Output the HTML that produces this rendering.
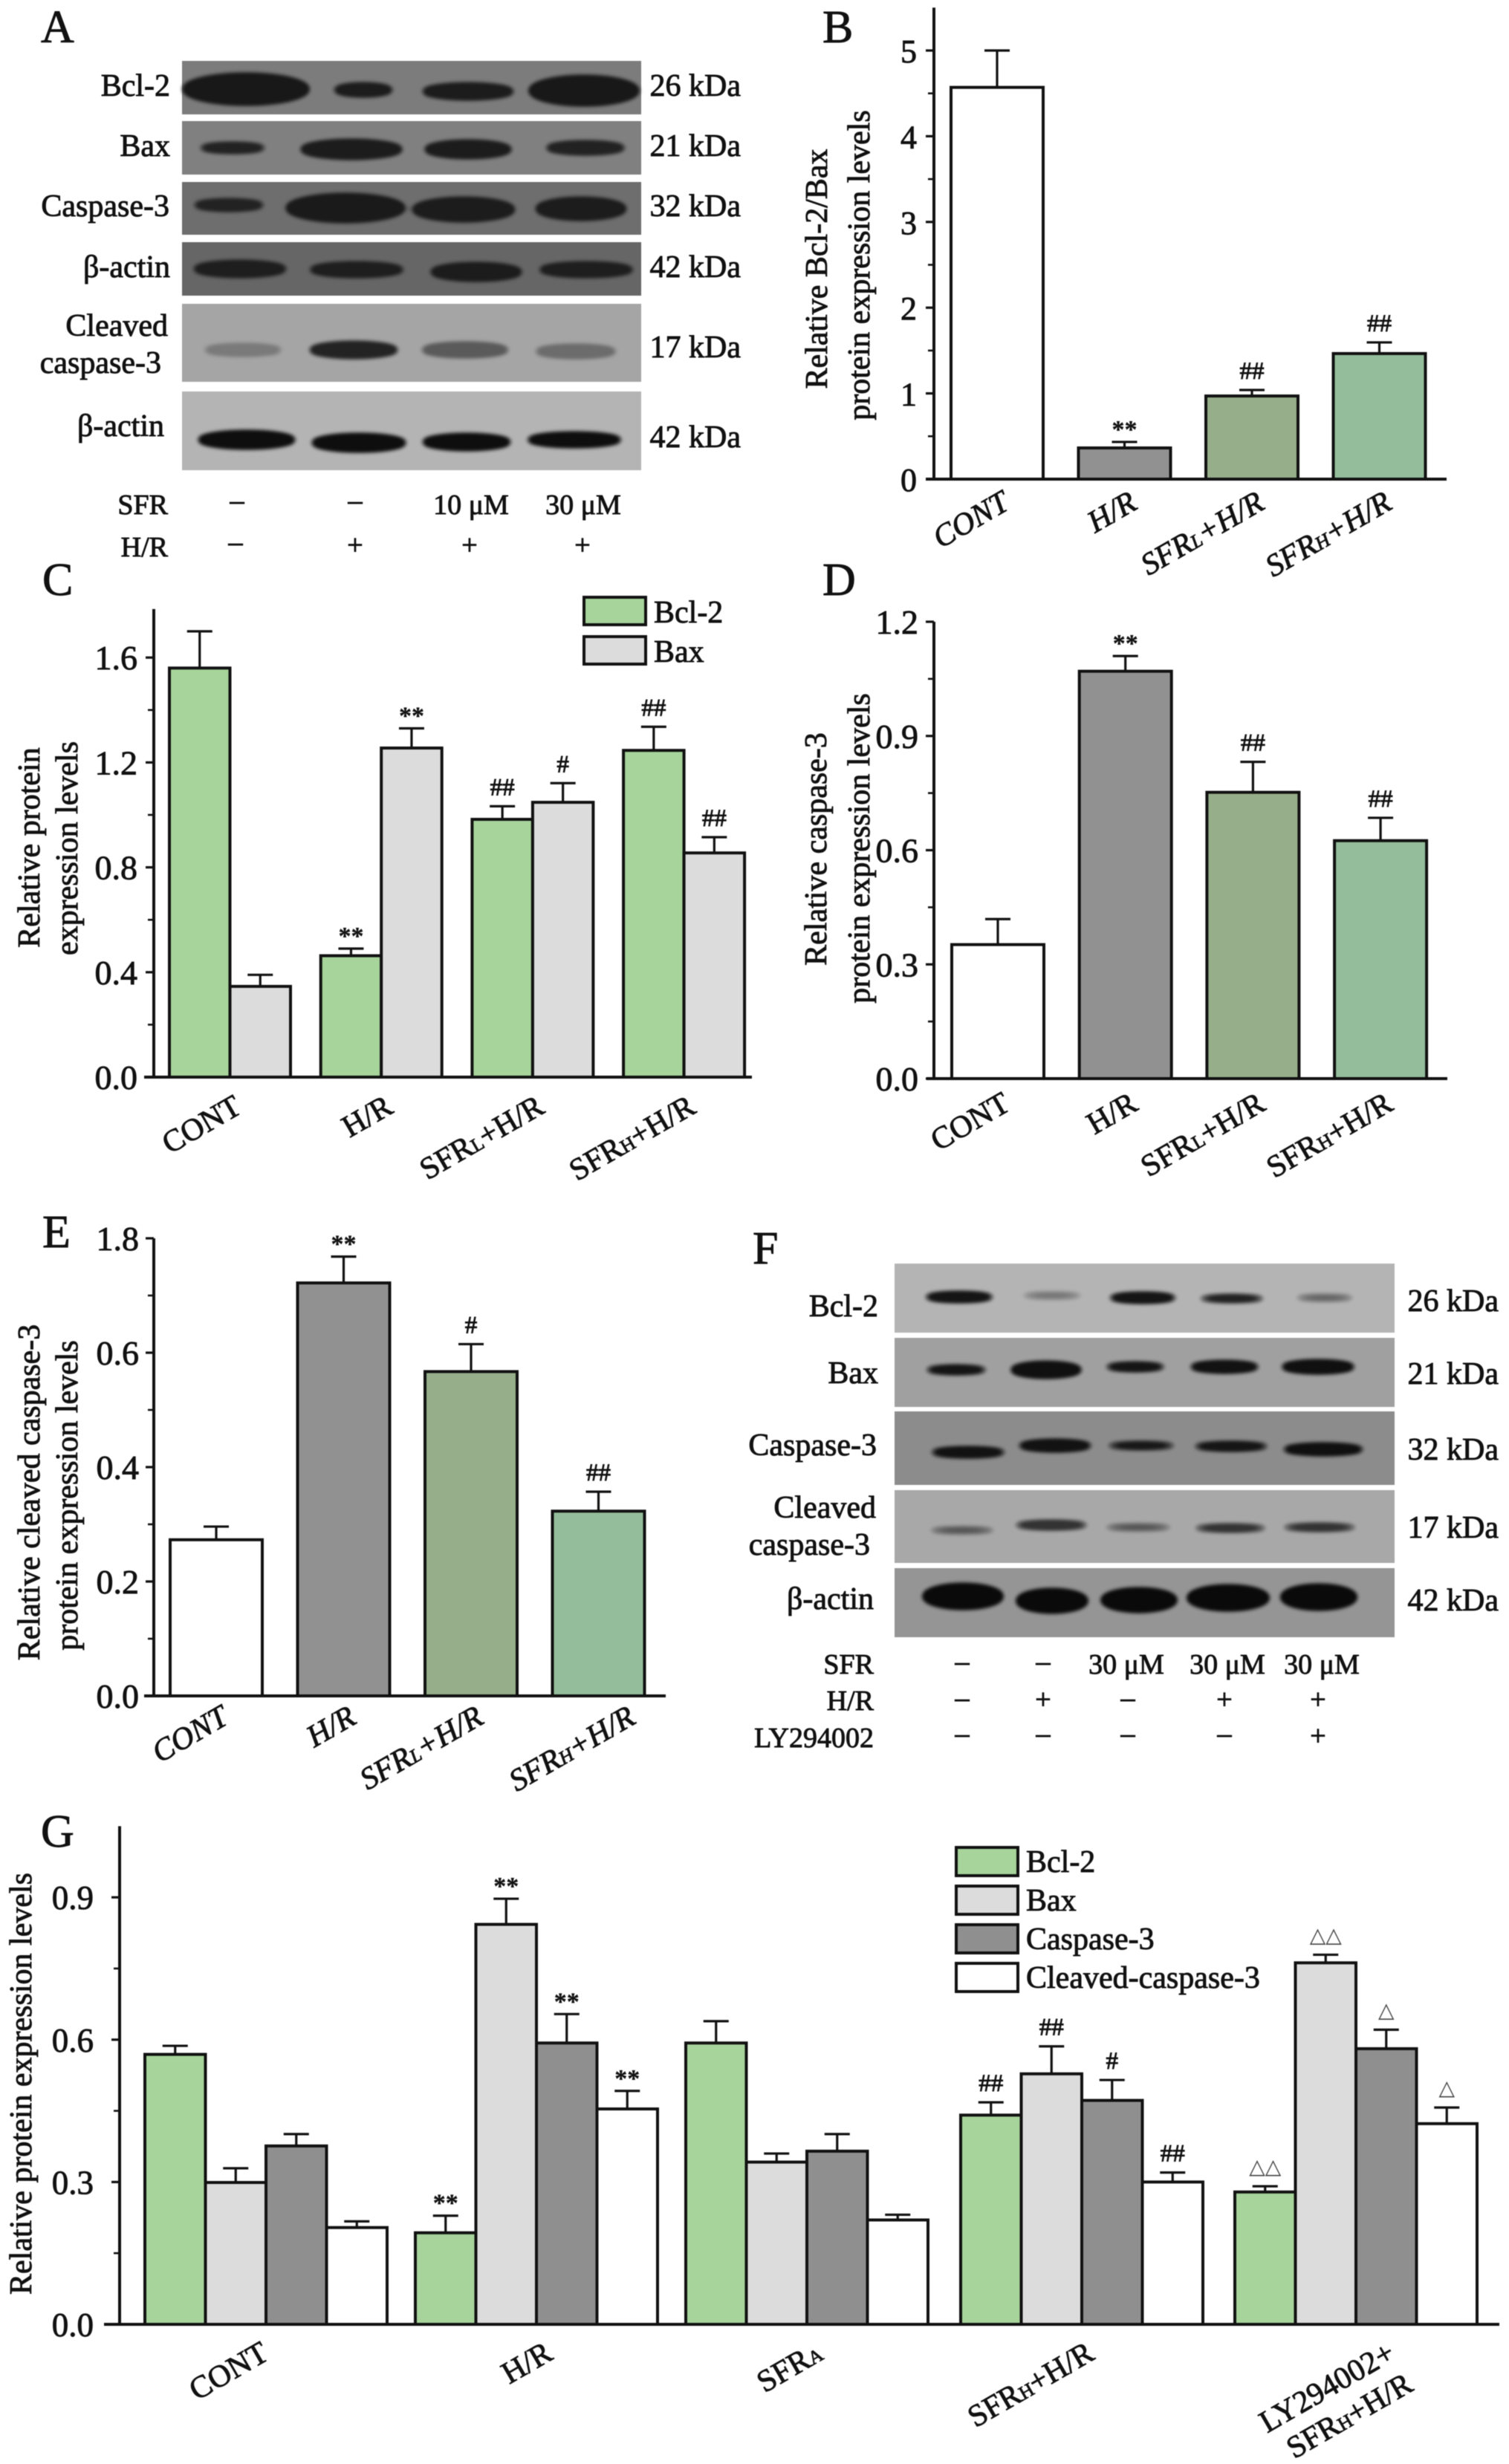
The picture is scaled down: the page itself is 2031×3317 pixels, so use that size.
<!DOCTYPE html>
<html lang="en">
<head>
<meta charset="utf-8">
<title>Western blot and protein expression panels</title>
<style>
html,body{margin:0;padding:0;background:#fff;}
svg{display:block;filter:blur(.5px);}
text{font-family:"Liberation Serif","DejaVu Serif",serif;fill:#111;stroke:#111;stroke-width:.9px;}
</style>
</head>
<body>
<svg id="figure" xmlns="http://www.w3.org/2000/svg" width="2031" height="3317" viewBox="0 0 2031 3317">
<defs>
<filter id="soft" x="-20%" y="-60%" width="140%" height="220%" color-interpolation-filters="sRGB"><feGaussianBlur stdDeviation="5"/><feComponentTransfer><feFuncA type="linear" slope="2.6" intercept="-0.45"/></feComponentTransfer><feGaussianBlur stdDeviation="1.6"/></filter>
</defs>
<rect x="0" y="0" width="2031" height="3317" fill="#fff"/>

<!-- Panel A -->
<g>
<text x="55" y="57" font-size="62">A</text>
<rect x="245" y="82" width="618" height="72" fill="#7c7c7c"/>
<rect x="245" y="163" width="618" height="72" fill="#808080"/>
<rect x="245" y="245" width="618" height="71" fill="#6e6e6e"/>
<rect x="245" y="326" width="618" height="72" fill="#666"/>
<rect x="245" y="409" width="618" height="105" fill="#a5a5a5"/>
<rect x="245" y="527" width="618" height="106" fill="#b4b4b4"/>
<g filter="url(#soft)">
<ellipse cx="331" cy="120" rx="86" ry="21" fill="#181818"/>
<ellipse cx="489" cy="121" rx="41" ry="9" fill="#1c1c1c"/>
<ellipse cx="630" cy="123" rx="63" ry="11" fill="#1c1c1c"/>
<ellipse cx="786" cy="122" rx="75" ry="20" fill="#181818"/>
<ellipse cx="313" cy="199" rx="46" ry="7" fill="#222"/>
<ellipse cx="473" cy="201" rx="70" ry="13" fill="#1c1c1c"/>
<ellipse cx="630" cy="201" rx="60" ry="12" fill="#1c1c1c"/>
<ellipse cx="788" cy="199" rx="55" ry="9" fill="#222"/>
<ellipse cx="308" cy="276" rx="49" ry="8" fill="#222"/>
<ellipse cx="465" cy="280" rx="81" ry="19" fill="#1a1a1a"/>
<ellipse cx="624" cy="282" rx="70" ry="16" fill="#1c1c1c"/>
<ellipse cx="782" cy="281" rx="62" ry="15" fill="#1c1c1c"/>
<ellipse cx="323" cy="362" rx="64" ry="11" fill="#1e1e1e"/>
<ellipse cx="480" cy="363" rx="65" ry="10" fill="#1e1e1e"/>
<ellipse cx="641" cy="366" rx="63" ry="12" fill="#1c1c1c"/>
<ellipse cx="789" cy="363" rx="65" ry="10" fill="#1e1e1e"/>
<ellipse cx="327" cy="471" rx="54" ry="8" fill="#7a7a7a"/>
<ellipse cx="476" cy="471" rx="61" ry="11" fill="#232323"/>
<ellipse cx="626" cy="471" rx="60" ry="10" fill="#5a5a5a"/>
<ellipse cx="775" cy="473" rx="56" ry="9" fill="#6c6c6c"/>
<ellipse cx="332" cy="592" rx="67" ry="12" fill="#0e0e0e"/>
<ellipse cx="483" cy="596" rx="65" ry="12" fill="#0e0e0e"/>
<ellipse cx="628" cy="595" rx="61" ry="11" fill="#0e0e0e"/>
<ellipse cx="773" cy="592" rx="65" ry="10" fill="#0e0e0e"/>
</g>
<g font-size="42" text-anchor="end">
<text x="229" y="129">Bcl-2</text>
<text x="229" y="210">Bax</text>
<text x="228" y="291">Caspase-3</text>
<text x="229" y="373">β-actin</text>
<text x="226" y="452">Cleaved</text>
<text x="217" y="502">caspase-3</text>
<text x="221" y="587">β-actin</text>
</g>
<g font-size="42" text-anchor="end">
<text x="997" y="129">26 kDa</text>
<text x="997" y="210">21 kDa</text>
<text x="997" y="291">32 kDa</text>
<text x="997" y="373">42 kDa</text>
<text x="997" y="481">17 kDa</text>
<text x="997" y="602">42 kDa</text>
</g>
<g font-size="38" text-anchor="middle">
<text x="226" y="692" text-anchor="end">SFR</text>
<text x="226" y="749" text-anchor="end">H/R</text>
<text x="319" y="686">–</text>
<text x="478" y="686">–</text>
<text x="634" y="692">10 μM</text>
<text x="785" y="692">30 μM</text>
<text x="317" y="742">–</text>
<text x="478" y="746">+</text>
<text x="632" y="746">+</text>
<text x="784" y="746">+</text>
</g>
</g>

<!-- Panel F -->
<g>
<text x="1013" y="1701" font-size="62">F</text>
<rect x="1204" y="1701" width="673" height="93" fill="#b4b4b4"/>
<rect x="1204" y="1801" width="673" height="93" fill="#a0a0a0"/>
<rect x="1204" y="1900" width="673" height="99" fill="#8c8c8c"/>
<rect x="1204" y="2006" width="673" height="98" fill="#a8a8a8"/>
<rect x="1204" y="2111" width="673" height="93" fill="#959595"/>
<g filter="url(#soft)">
<ellipse cx="1291" cy="1746" rx="48" ry="7" fill="#151515"/>
<ellipse cx="1416" cy="1744" rx="43" ry="4" fill="#777"/>
<ellipse cx="1538" cy="1747" rx="47" ry="7" fill="#151515"/>
<ellipse cx="1658" cy="1748" rx="46" ry="5" fill="#222"/>
<ellipse cx="1783" cy="1747" rx="42" ry="4" fill="#666"/>
<ellipse cx="1287" cy="1844" rx="43" ry="6" fill="#151515"/>
<ellipse cx="1408" cy="1844" rx="49" ry="11" fill="#101010"/>
<ellipse cx="1528" cy="1840" rx="42" ry="6" fill="#151515"/>
<ellipse cx="1648" cy="1840" rx="48" ry="8" fill="#121212"/>
<ellipse cx="1774" cy="1840" rx="51" ry="9" fill="#101010"/>
<ellipse cx="1303" cy="1955" rx="52" ry="7" fill="#121212"/>
<ellipse cx="1420" cy="1946" rx="51" ry="8" fill="#121212"/>
<ellipse cx="1536" cy="1946" rx="48" ry="5" fill="#181818"/>
<ellipse cx="1657" cy="1947" rx="52" ry="6" fill="#151515"/>
<ellipse cx="1781" cy="1951" rx="56" ry="8" fill="#101010"/>
<ellipse cx="1295" cy="2060" rx="47" ry="4" fill="#555"/>
<ellipse cx="1415" cy="2053" rx="51" ry="6" fill="#333"/>
<ellipse cx="1532" cy="2056" rx="48" ry="4" fill="#555"/>
<ellipse cx="1656" cy="2057" rx="51" ry="5" fill="#333"/>
<ellipse cx="1776" cy="2056" rx="52" ry="5" fill="#333"/>
<ellipse cx="1296" cy="2149" rx="55" ry="17" fill="#0a0a0a"/>
<ellipse cx="1416" cy="2155" rx="49" ry="16" fill="#0a0a0a"/>
<ellipse cx="1533" cy="2154" rx="52" ry="16" fill="#0a0a0a"/>
<ellipse cx="1653" cy="2151" rx="56" ry="17" fill="#0a0a0a"/>
<ellipse cx="1775" cy="2150" rx="52" ry="17" fill="#0a0a0a"/>
</g>
<g font-size="42" text-anchor="end">
<text x="1182" y="1772">Bcl-2</text>
<text x="1182" y="1862">Bax</text>
<text x="1180" y="1959">Caspase-3</text>
<text x="1179" y="2043">Cleaved</text>
<text x="1171" y="2093">caspase-3</text>
<text x="1176" y="2166">β-actin</text>
</g>
<g font-size="42" text-anchor="end">
<text x="2017" y="1765">26 kDa</text>
<text x="2017" y="1863">21 kDa</text>
<text x="2017" y="1965">32 kDa</text>
<text x="2017" y="2070">17 kDa</text>
<text x="2017" y="2168">42 kDa</text>
</g>
<g font-size="38" text-anchor="middle">
<text x="1176" y="2253" text-anchor="end">SFR</text>
<text x="1176" y="2302" text-anchor="end">H/R</text>
<text x="1176" y="2352" text-anchor="end">LY294002</text>
<text x="1295" y="2249">–</text>
<text x="1404" y="2249">–</text>
<text x="1516" y="2253">30 μM</text>
<text x="1652" y="2253">30 μM</text>
<text x="1779" y="2253">30 μM</text>
<text x="1295" y="2298">–</text>
<text x="1404" y="2300">+</text>
<text x="1518" y="2298">–</text>
<text x="1648" y="2300">+</text>
<text x="1774" y="2300">+</text>
<text x="1295" y="2346">–</text>
<text x="1404" y="2346">–</text>
<text x="1518" y="2346">–</text>
<text x="1648" y="2346">–</text>
<text x="1774" y="2349">+</text>
</g>
</g>
</svg>

<script>
/* Panel B data */
const bCategories = ['CONT', 'H/R', 'SFR_L+H/R', 'SFR_H+H/R'];
const bValues = [4.57, 0.364, 0.97, 1.465];
const bErrors = [0.43, 0.07, 0.07, 0.13];
const bMarks = ['', '**', '##', '##'];
const bTicks = [0, 1, 2, 3, 4, 5];
const bTickLabels = ['0', '1', '2', '3', '4', '5'];

/* Panel C data */
const cCategories = ['CONT', 'H/R', 'SFR_L+H/R', 'SFR_H+H/R'];
const cBcl2Values = [1.56, 0.463, 0.983, 1.246];
const cBcl2Errors = [0.14, 0.027, 0.05, 0.09];
const cBcl2Marks = ['', '**', '##', '##'];
const cBaxValues = [0.346, 1.255, 1.048, 0.855];
const cBaxErrors = [0.044, 0.075, 0.073, 0.06];
const cBaxMarks = ['', '**', '#', '##'];
const cTicks = [0, 0.4, 0.8, 1.2, 1.6];
const cTickLabels = ['0.0', '0.4', '0.8', '1.2', '1.6'];

/* Panel D data */
const dCategories = ['CONT', 'H/R', 'SFR_L+H/R', 'SFR_H+H/R'];
const dValues = [0.352, 1.07, 0.752, 0.625];
const dErrors = [0.067, 0.04, 0.08, 0.06];
const dMarks = ['', '**', '##', '##'];
const dTicks = [0, 0.3, 0.6, 0.9, 1.2];
const dTickLabels = ['0.0', '0.3', '0.6', '0.9', '1.2'];

/* Panel E data (the top tick is printed as 1.8 in the figure) */
const eCategories = ['CONT', 'H/R', 'SFR_L+H/R', 'SFR_H+H/R'];
const eValues = [0.273, 0.722, 0.567, 0.323];
const eErrors = [0.023, 0.046, 0.048, 0.034];
const eMarks = ['', '**', '#', '##'];
const eTicks = [0, 0.2, 0.4, 0.6, 0.8];
const eTickLabels = ['0.0', '0.2', '0.4', '0.6', '1.8'];

/* Panel G data */
const gCategories = ['CONT', 'H/R', 'SFR_A', 'SFR_H+H/R', 'LY294002+|SFR_H+H/R'];
const gBcl2Values = [0.569, 0.193, 0.593, 0.441, 0.279];
const gBcl2Errors = [0.018, 0.036, 0.046, 0.027, 0.012];
const gBcl2Marks = ['', '**', '', '##', '△△'];
const gBaxValues = [0.299, 0.843, 0.342, 0.528, 0.762];
const gBaxErrors = [0.03, 0.054, 0.018, 0.058, 0.017];
const gBaxMarks = ['', '**', '', '##', '△△'];
const gCaspaseValues = [0.376, 0.593, 0.365, 0.472, 0.581];
const gCaspaseErrors = [0.025, 0.061, 0.036, 0.043, 0.04];
const gCaspaseMarks = ['', '**', '', '#', '△'];
const gCleavedValues = [0.204, 0.454, 0.22, 0.30, 0.423];
const gCleavedErrors = [0.013, 0.038, 0.011, 0.02, 0.034];
const gCleavedMarks = ['', '**', '', '##', '△'];
const gTicks = [0, 0.3, 0.6, 0.9];
const gTickLabels = ['0.0', '0.3', '0.6', '0.9'];

const GREEN = '#a6d49a', LIGHT = '#dcdcdc', DARK = '#8f8f8f', WHITE = '#ffffff';
const singleFill = i => [WHITE, '#919191', '#96ae8a', '#93bd9b'][i];

const NS = 'http://www.w3.org/2000/svg';
const figure = document.getElementById('figure');

function svgEl(tag, attrs, parent) {
  const el = document.createElementNS(NS, tag);
  for (const k in attrs) el.setAttribute(k, attrs[k]);
  parent.appendChild(el);
  return el;
}

function lineEl(parent, x1, y1, x2, y2, w, name) {
  const el = svgEl('line', { x1, y1, x2, y2, stroke: '#111', 'stroke-width': w }, parent);
  
  
  return el;
}

function textEl(parent, str, x, y, size, anchor, name, extra) {
  const el = svgEl('text', Object.assign({ x, y, 'font-size': size, 'text-anchor': anchor }, extra || {}), parent);
  
  
  const parts = str.split(/_(.)/);
  parts.forEach((part, idx) => {
    if (!part) return;
    const span = document.createElementNS(NS, 'tspan');
    if (idx % 2 === 1) span.setAttribute('font-size', Math.round(size * 0.62));
    span.textContent = part;
    el.appendChild(span);
  });
  return el;
}

function drawChart(cfg) {
  const g = svgEl('g', {}, figure);
  
  

  const yScale = v => cfg.zeroY - v * cfg.unit;
  const groupWidth = cfg.series.length * cfg.barW;

  textEl(g, cfg.letter, cfg.letterX, cfg.letterY, 62, 'start', 'panel-' + cfg.id + '-letter');

  cfg.titles.forEach((t, i) => {
    textEl(g, t.text, t.x, t.y, 42, 'middle', cfg.id + '-y-axis-title-' + (i + 1), { transform: 'rotate(-90 ' + t.x + ' ' + t.y + ')' });
  });

  cfg.series.forEach((s, si) => {
    s.values.forEach((v, i) => {
      const left = cfg.groupLeft(i) + si * cfg.barW;
      const cx = left + cfg.barW / 2;
      const top = yScale(v + s.errors[i]);
      lineEl(g, cx, yScale(v), cx, top, 3.2, cfg.id + '-error-stem-' + s.name + '-' + i);
      lineEl(g, cx - 17, top, cx + 17, top, 3.2, cfg.id + '-error-cap-' + s.name + '-' + i);
      const bar = svgEl('rect', {
        x: left, y: yScale(v), width: cfg.barW, height: cfg.zeroY - yScale(v),
        fill: s.fill(i), stroke: '#111', 'stroke-width': 4
      }, g);
      
      
      const mark = s.marks[i];
      if (mark) {
        const isStar = mark[0] === '*';
        const isTri = mark[0] === '△';
        const my = isStar ? top - 6 : isTri ? top - 17 : top - 15;
        const sz = isStar ? 34 : isTri ? 28 : 33;
        const extra = isTri ? { style: 'font-family:"DejaVu Sans",sans-serif;fill:#444;stroke:none' } : isStar ? { 'font-weight': 'bold', style: 'stroke-width:.3px' } : {};
        textEl(g, mark, cx, my, sz, 'middle', cfg.id + '-significance-' + s.name + '-' + i, extra);
      }
    });
  });

  lineEl(g, cfg.originX, yScale(cfg.axisTop), cfg.originX, cfg.zeroY + 2, 4, cfg.id + '-y-axis');
  lineEl(g, cfg.xStart, cfg.zeroY, cfg.xEnd, cfg.zeroY, 4, cfg.id + '-x-axis');

  cfg.ticks.forEach((t, i) => {
    lineEl(g, cfg.originX - 11, yScale(t), cfg.originX, yScale(t), 3.2, cfg.id + '-y-tick-' + i);
    textEl(g, cfg.tickLabels[i], cfg.labelRight, yScale(t) + 16, cfg.tickFont, 'end', cfg.id + '-y-tick-label-' + i);
    if (i < cfg.ticks.length - 1) {
      const mid = (t + cfg.ticks[i + 1]) / 2;
      lineEl(g, cfg.originX - 8, yScale(mid), cfg.originX, yScale(mid), 2.6, cfg.id + '-y-minor-tick-' + i);
    }
  });

  cfg.categories.forEach((c, i) => {
    const ex = cfg.groupLeft(i) + groupWidth / 2 + cfg.labelDx(i);
    c.split('|').forEach((line, li) => {
      const lx = ex + li * 24;
      const ly = cfg.labelY + li * 42;
      const extra = { transform: 'rotate(-30 ' + lx + ' ' + ly + ')' };
      if (cfg.italic) extra['font-style'] = 'italic';
      textEl(g, line, lx, ly, 42, 'end', cfg.id + '-x-label-' + i + '-' + li, extra);
    });
  });
}

function drawLegend(id, entries, boxX, boxTop, step, boxH, textInset) {
  const g = svgEl('g', {}, figure);
  
  
  entries.forEach((e, i) => {
    const y = boxTop + i * step;
    const box = svgEl('rect', { x: boxX, y, width: 83, height: boxH, fill: e.fill, stroke: '#111', 'stroke-width': 4 }, g);
    
    
    textEl(g, e.label, boxX + 94, y + boxH - textInset, 42, 'start', 'legend-label-' + id + '-' + i);
  });
}

drawChart({
  id: 'b', letter: 'B', letterX: 1107, letterY: 57,
  originX: 1257, zeroY: 645, unit: 115.4, axisTop: 5.5, xStart: 1246, xEnd: 1947,
  ticks: bTicks, tickLabels: bTickLabels, tickFont: 44, labelRight: 1234,
  groupLeft: i => 1280 + 171.5 * i, barW: 124,
  series: [{ name: 'ratio', values: bValues, errors: bErrors, marks: bMarks, fill: singleFill }],
  categories: bCategories, labelDx: i => 19, labelY: 684, italic: true,
  titles: [
    { text: 'Relative Bcl-2/Bax', x: 1113, y: 362 },
    { text: 'protein expression levels', x: 1170, y: 357 }
  ]
});

drawChart({
  id: 'c', letter: 'C', letterX: 57, letterY: 801,
  originX: 207, zeroY: 1450, unit: 353, axisTop: 1.785, xStart: 194, xEnd: 1012,
  ticks: cTicks, tickLabels: cTickLabels, tickFont: 46, labelRight: 185,
  groupLeft: i => 228 + 203.7 * i, barW: 81.5,
  series: [
    { name: 'bcl2', values: cBcl2Values, errors: cBcl2Errors, marks: cBcl2Marks, fill: () => GREEN },
    { name: 'bax', values: cBaxValues, errors: cBaxErrors, marks: cBaxMarks, fill: () => LIGHT }
  ],
  categories: cCategories, labelDx: i => 18, labelY: 1497, italic: false,
  titles: [
    { text: 'Relative protein', x: 53, y: 1141 },
    { text: 'expression levels', x: 104, y: 1142 }
  ]
});
drawLegend('c', [{ fill: GREEN, label: 'Bcl-2' }, { fill: LIGHT, label: 'Bax' }], 786, 804, 53, 37, 3);

drawChart({
  id: 'd', letter: 'D', letterX: 1107, letterY: 801,
  originX: 1257, zeroY: 1452, unit: 512.5, axisTop: 1.2, xStart: 1247, xEnd: 1948,
  ticks: dTicks, tickLabels: dTickLabels, tickFont: 46, labelRight: 1236,
  groupLeft: i => 1281 + 171.7 * i, barW: 124,
  series: [{ name: 'caspase3', values: dValues, errors: dErrors, marks: dMarks, fill: singleFill }],
  categories: dCategories, labelDx: i => 19, labelY: 1493, italic: false,
  titles: [
    { text: 'Relative caspase-3', x: 1112, y: 1143 },
    { text: 'protein expression levels', x: 1170, y: 1142 }
  ]
});

drawChart({
  id: 'e', letter: 'E', letterX: 57, letterY: 1679,
  originX: 207, zeroY: 2283, unit: 770, axisTop: 0.8, xStart: 194, xEnd: 896,
  ticks: eTicks, tickLabels: eTickLabels, tickFont: 46, labelRight: 187,
  groupLeft: i => 229 + 171.5 * i, barW: 124,
  series: [{ name: 'cleaved', values: eValues, errors: eErrors, marks: eMarks, fill: singleFill }],
  categories: eCategories, labelDx: i => (i === 3 ? 52 : 19), labelY: 2319, italic: true,
  titles: [
    { text: 'Relative cleaved caspase-3', x: 53, y: 2009 },
    { text: 'protein expression levels', x: 104, y: 2013 }
  ]
});

drawChart({
  id: 'g', letter: 'G', letterX: 55, letterY: 2486,
  originX: 161, zeroY: 3129, unit: 638.7, axisTop: 1.05, xStart: 140, xEnd: 2018,
  ticks: gTicks, tickLabels: gTickLabels, tickFont: 45, labelRight: 126,
  groupLeft: i => 195 + 364 * i + (i > 2 ? 6 + 5 * (i - 3) : 0), barW: 81.5,
  series: [
    { name: 'bcl2', values: gBcl2Values, errors: gBcl2Errors, marks: gBcl2Marks, fill: () => GREEN },
    { name: 'bax', values: gBaxValues, errors: gBaxErrors, marks: gBaxMarks, fill: () => LIGHT },
    { name: 'caspase3', values: gCaspaseValues, errors: gCaspaseErrors, marks: gCaspaseMarks, fill: () => DARK },
    { name: 'cleaved', values: gCleavedValues, errors: gCleavedErrors, marks: gCleavedMarks, fill: () => WHITE }
  ],
  categories: gCategories, labelDx: i => [6, 24, 24, 19, 55][i], labelY: 3175, italic: false,
  titles: [{ text: 'Relative protein expression levels', x: 42, y: 2805 }]
});
drawLegend('g', [
  { fill: GREEN, label: 'Bcl-2' },
  { fill: LIGHT, label: 'Bax' },
  { fill: DARK, label: 'Caspase-3' },
  { fill: WHITE, label: 'Cleaved-caspase-3' }
], 1287, 2487, 52, 38, 5);
</script>
</body>
</html>
